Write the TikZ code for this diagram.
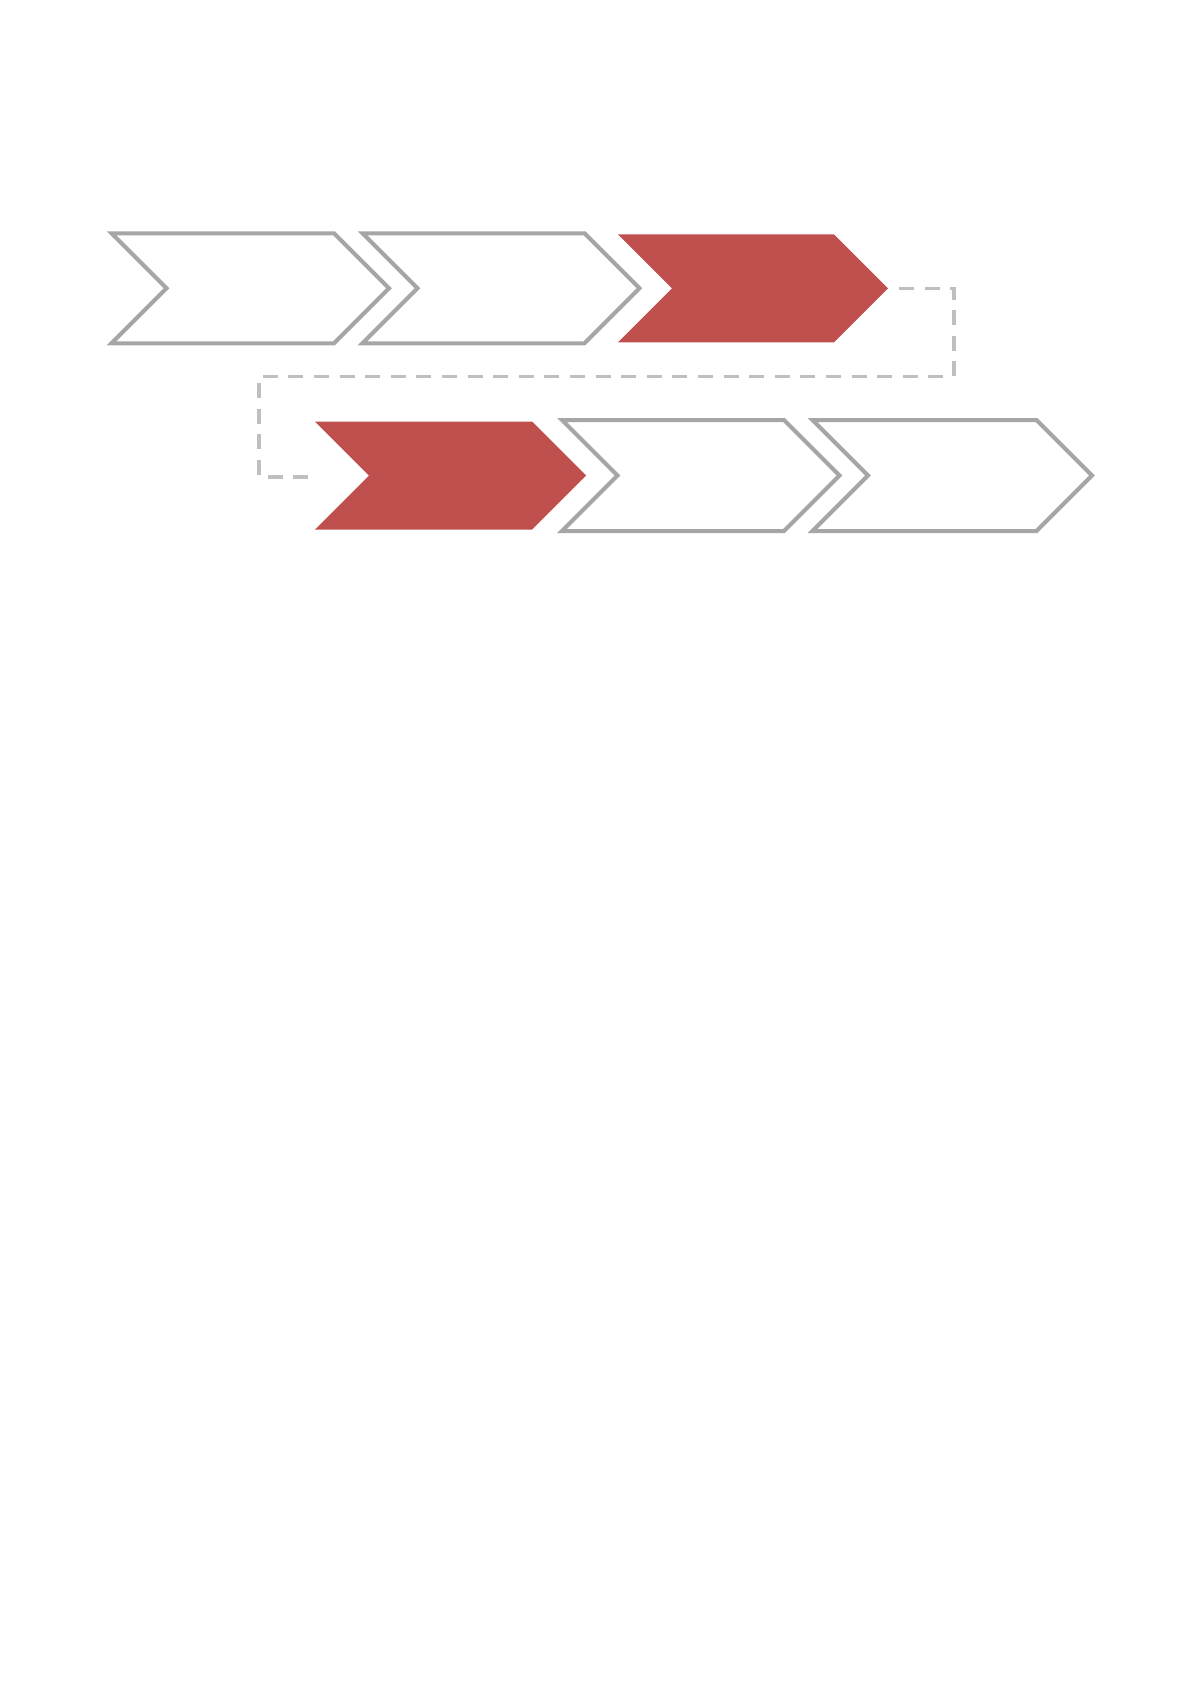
\documentclass[tikz,border=0pt]{standalone}
\usetikzlibrary{calc}
\definecolor{chevgray}{HTML}{A6A6A6}
\definecolor{chevred}{HTML}{C0504D}
\definecolor{dashgray}{HTML}{BFBFBF}
\tikzset{
  chevout/.style={draw=chevgray, line width=4pt, fill=white, line join=miter},
  chevfill/.style={fill=chevred, draw=none},
  linkline/.style={draw=dashgray, line width=3.5pt, dash pattern=on 15pt off 10.6pt}
}
% #1 = left x, #2 = centre y, #3 = width, #4 = half height, #5 = style
\newcommand\mychevron[5]{%
  \path[#5] ({#1},{#2-#4}) -- ({#1+#3-#4},{#2-#4}) -- ({#1+#3},{#2})
    -- ({#1+#3-#4},{#2+#4}) -- ({#1},{#2+#4}) -- ({#1+#4},{#2}) -- cycle;}
\begin{document}
\begin{tikzpicture}[x=1pt,y=-1pt]
  \useasboundingbox[fill=white] (0,0) rectangle (1191,1684);
  % row 1
  \mychevron{111.5}{288.3}{277.5}{55}{chevout}
  \mychevron{362.5}{288.3}{277}{55}{chevout}
  \mychevron{618}{288.3}{270}{54}{chevfill}
  % row 2
  \mychevron{315}{475.5}{271}{54}{chevfill}
  \mychevron{562}{475.5}{277.5}{55.5}{chevout}
  \mychevron{812.5}{475.5}{279.5}{55.5}{chevout}
  % connector end points
  \coordinate (linkstart) at (899,288.3);
  \coordinate (linkend) at (311,477);
  \coordinate (linkright) at (954,376.3);
  \coordinate (linkleft) at (259,376.3);
  \draw[linkline] (linkstart) -| (linkright) -- (linkleft) |- (linkend);
\end{tikzpicture}
\end{document}
